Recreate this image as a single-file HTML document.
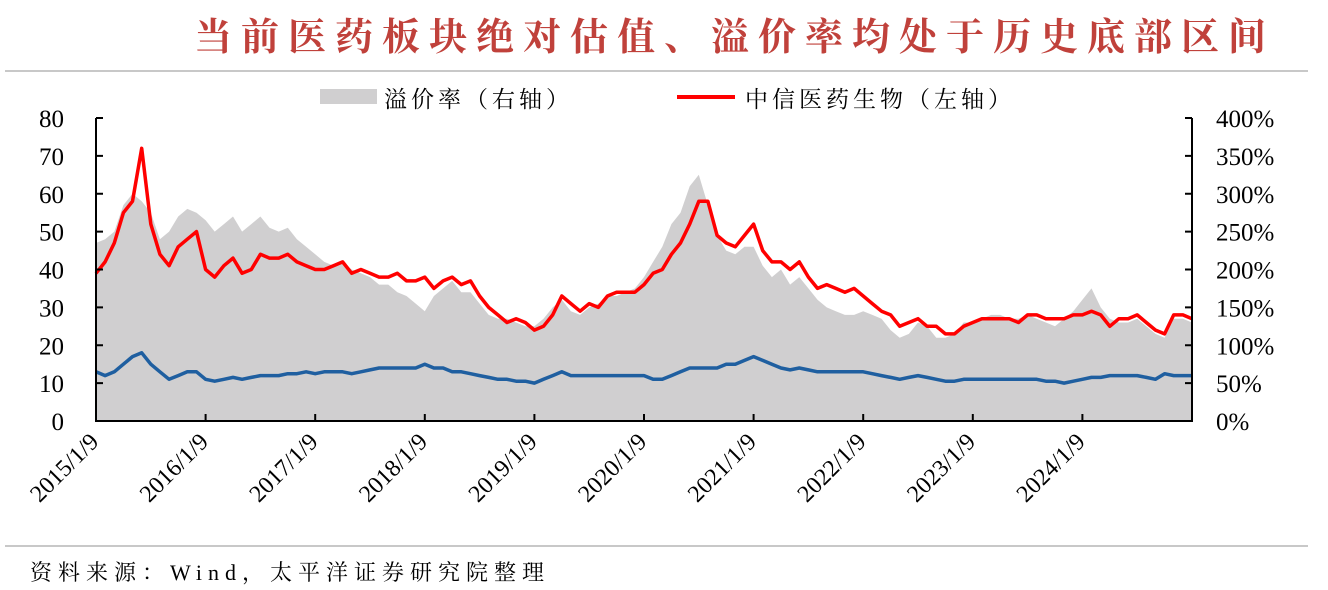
<!DOCTYPE html>
<html><head><meta charset="utf-8"><style>
body{margin:0;background:#fff;}
svg text{font-family:"Liberation Serif","Noto Serif CJK SC",serif;}
</style></head><body>
<svg id="chart" width="1328" height="585" xmlns="http://www.w3.org/2000/svg">
<text x="1275" y="50" text-anchor="end" font-size="38" font-weight="bold" fill="#c0413b" letter-spacing="9">当前医药板块绝对估值、溢价率均处于历史底部区间</text>
<line x1="5" y1="71" x2="1308" y2="71" stroke="#c8c8c8" stroke-width="2"/>
<rect x="320" y="89" width="57" height="15" fill="#d0cfd0"/>
<text x="384" y="107" font-size="23" letter-spacing="4">溢价率（右轴）</text>
<line x1="677" y1="97" x2="735" y2="97" stroke="#ff0000" stroke-width="4"/>
<text x="745" y="107" font-size="23" letter-spacing="4">中信医药生物（左轴）</text>
<g id="plot"></g>
<line x1="5" y1="546" x2="1308" y2="546" stroke="#c8c8c8" stroke-width="2"/>
<text x="30" y="580" font-size="22" letter-spacing="6">资料来源：Wind，太平洋证券研究院整理</text>
</svg>
<script>
const yearLabels=["2015/1/9","2016/1/9","2017/1/9","2018/1/9","2019/1/9","2020/1/9","2021/1/9","2022/1/9","2023/1/9","2024/1/9"];
const leftTicks=[0,10,20,30,40,50,60,70,80];
const rightTicks=["0%","50%","100%","150%","200%","250%","300%","350%","400%"];
const peSeries=[39,42,47,55,58,72,52,44,41,46,48,50,
40,38,41,43,39,40,44,43,43,44,42,41,
40,40,41,42,39,40,39,38,38,39,37,37,
38,35,37,38,36,37,33,30,28,26,27,26,
24,25,28,33,31,29,31,30,33,34,34,34,
36,39,40,44,47,52,58,58,49,47,46,49,
52,45,42,42,40,42,38,35,36,35,34,35,
33,31,29,28,25,26,27,25,25,23,23,25,
26,27,27,27,27,26,28,28,27,27,27,28,
28,29,28,25,27,27,28,26,24,23,28,28,27];
const peerSeries=[13,12,13,15,17,18,15,13,11,12,13,13,
11,10.5,11,11.5,11,11.5,12,12,12,12.5,12.5,13,
12.5,13,13,13,12.5,13,13.5,14,14,14,14,14,
15,14,14,13,13,12.5,12,11.5,11,11,10.5,10.5,
10,11,12,13,12,12,12,12,12,12,12,12,
12,11,11,12,13,14,14,14,14,15,15,16,
17,16,15,14,13.5,14,13.5,13,13,13,13,13,
13,12.5,12,11.5,11,11.5,12,11.5,11,10.5,10.5,11,
11,11,11,11,11,11,11,11,10.5,10.5,10,10.5,
11,11.5,11.5,12,12,12,12,11.5,11,12.5,12,12,12];
const premiumSeries=[235,240,250,285,300,290,275,240,250,270,280,275,
265,250,260,270,250,260,270,255,250,255,240,230,
220,210,205,210,200,195,190,180,180,170,165,155,
145,165,175,185,170,170,155,140,135,135,130,125,
125,135,150,160,145,140,150,155,165,165,170,175,
190,210,230,260,275,310,325,285,245,225,220,230,
230,205,190,200,180,190,175,160,150,145,140,140,
145,140,135,120,110,115,130,125,110,110,115,130,
130,135,140,140,135,135,140,135,130,125,135,145,
160,175,150,135,130,130,135,125,115,110,135,135,130];
const X0=96,X1=1192,Y0=421,Y1=118,N=peSeries.length;
const xs=i=>X0+(X1-X0)*i/(N-1);
const yL=v=>Y0-(Y0-Y1)*v/80;
const yR=p=>Y0-(Y0-Y1)*p/400;
const NS="http://www.w3.org/2000/svg";
const g=document.getElementById('plot');
function mk(t,a){const e=document.createElementNS(NS,t);for(const k in a)e.setAttribute(k,a[k]);g.appendChild(e);return e;}
let d=`M${X0},${Y0}`;premiumSeries.forEach((p,i)=>{d+=` L${xs(i).toFixed(1)},${yR(p).toFixed(1)}`;});d+=` L${X1},${Y0} Z`;
const area=mk('path',{d:d,fill:'#d0cfd0'});


const pl=a=>a.map((v,i)=>`${xs(i).toFixed(1)},${yL(v).toFixed(1)}`).join(' ');
const peer=mk('polyline',{points:pl(peerSeries),fill:'none',stroke:'#1f5fa0','stroke-width':3.5,'stroke-linejoin':'round'});


const pe=mk('polyline',{points:pl(peSeries),fill:'none',stroke:'#ff0000','stroke-width':3.5,'stroke-linejoin':'round'});


const ax=mk('path',{d:`M${X0},${Y1} L${X0},${Y0} L${X1},${Y0} L${X1},${Y1}`,fill:'none',stroke:'#000','stroke-width':2});


leftTicks.forEach(v=>{const y=yL(v);
 mk('line',{x1:X0,y1:y,x2:X0+7,y2:y,stroke:'#000','stroke-width':2});
 const t=mk('text',{x:X0-32,y:y+9,'text-anchor':'end','font-size':25});t.textContent=v;
 
 });
rightTicks.forEach((s,i)=>{const y=yR(i*50);
 mk('line',{x1:X1-7,y1:y,x2:X1,y2:y,stroke:'#000','stroke-width':2});
 const t=mk('text',{x:X1+24,y:y+9,'font-size':25});t.textContent=s;
 
 });
yearLabels.forEach((s,i)=>{const x=xs(i*12);
 mk('line',{x1:x,y1:Y0,x2:x,y2:Y0-7,stroke:'#000','stroke-width':2});
 const t=mk('text',{x:x+4,y:Y0+22,'text-anchor':'end','font-size':24,transform:`rotate(-45 ${x+4} ${Y0+22})`});t.textContent=s;
 
 });
</script>
</body></html>
